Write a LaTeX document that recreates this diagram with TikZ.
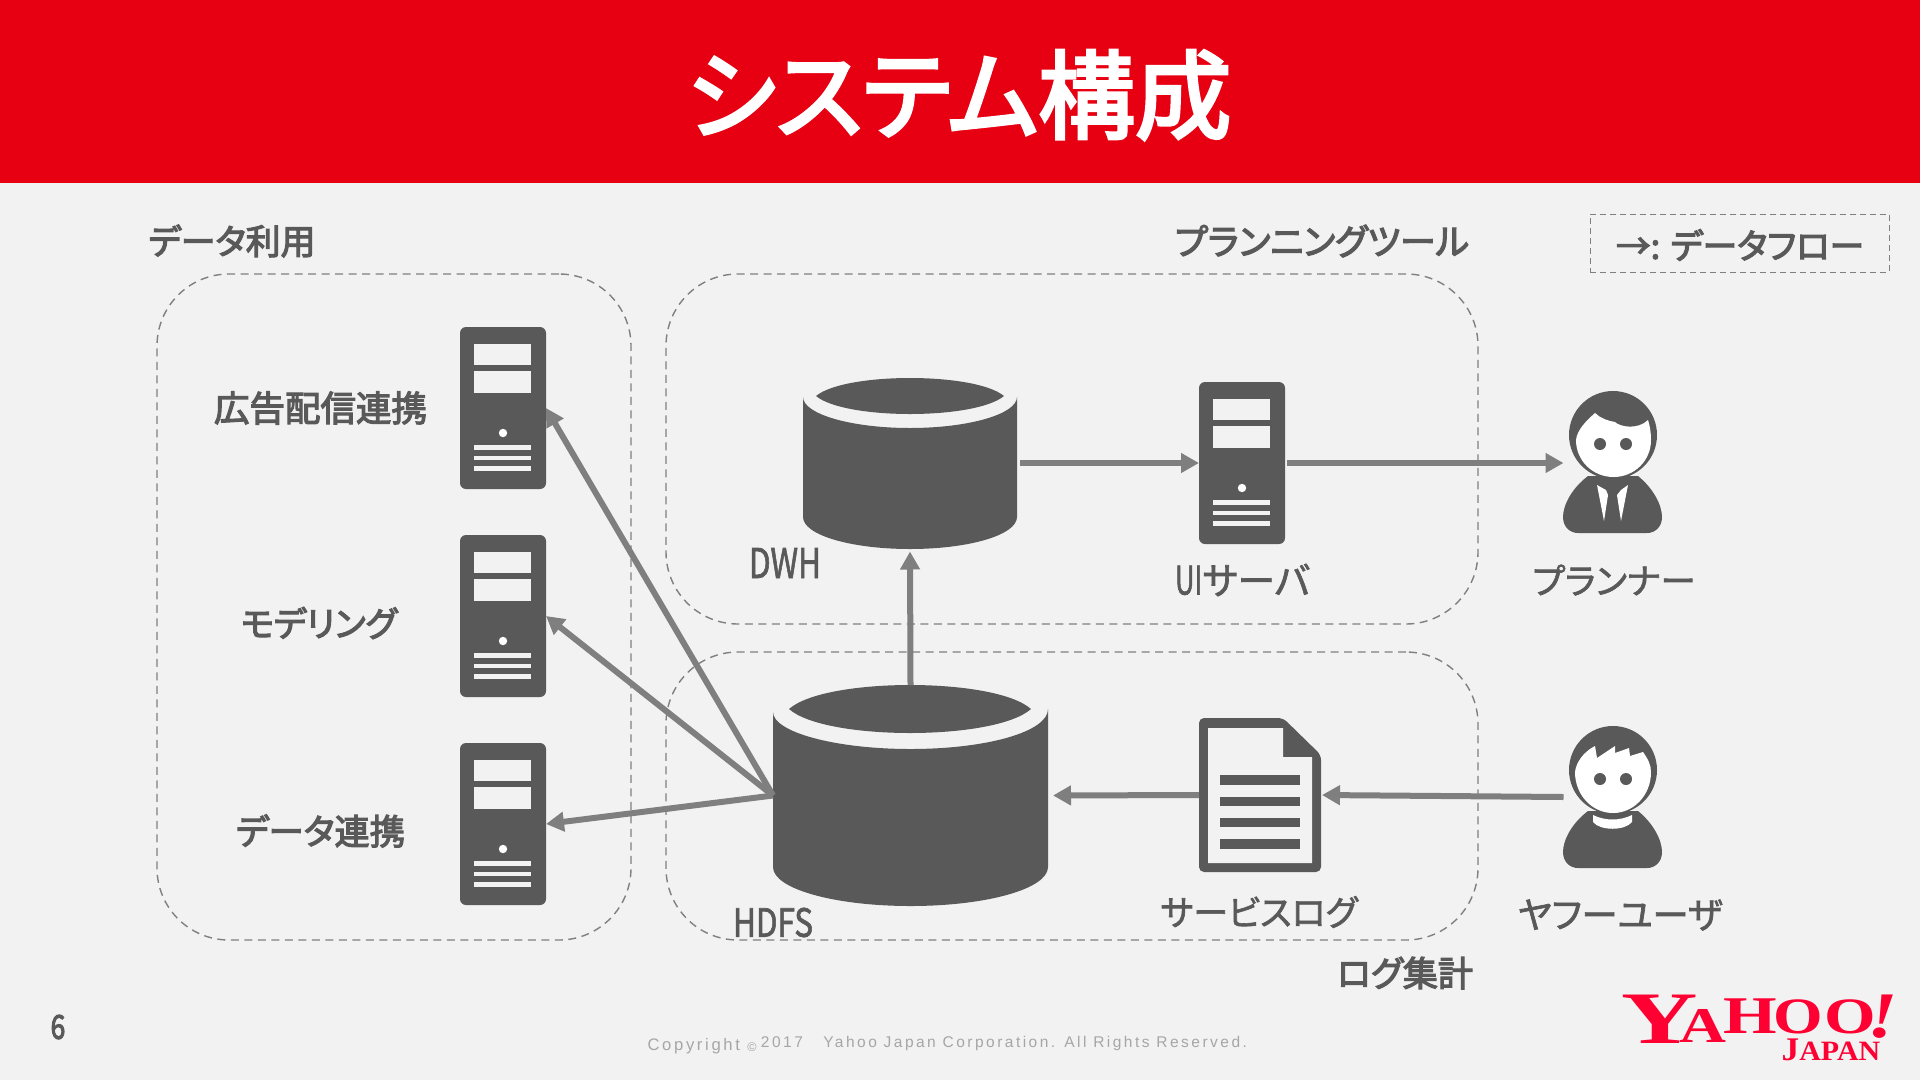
\documentclass[tikz,border=0pt]{standalone}
\usepackage{fontspec}
\usepackage{graphicx}
\usetikzlibrary{arrows.meta}
\setmainfont{Noto Sans CJK JP}[RawFeature=+palt]
\newfontfamily\heavyfont{Noto Sans CJK JP}[RawFeature=+palt,FakeBold=3.4]
\newfontfamily\midfont{Noto Sans CJK JP}[RawFeature=+palt,FakeBold=1.8]
\newfontfamily\logofont{Liberation Serif}
\newfontfamily\copyfont{Liberation Sans}[LetterSpace=16]
\definecolor{hdrred}{HTML}{E60012}
\definecolor{pagebg}{HTML}{F2F2F2}
\definecolor{icongray}{HTML}{595959}
\definecolor{arrowgray}{HTML}{7F7F7F}
\definecolor{dashgray}{HTML}{808080}
\definecolor{copygray}{HTML}{A6A6A6}
\definecolor{logored}{HTML}{FF0033}
\newcommand\fitw[2]{\resizebox{#1pt}{!}{#2}}
\newcommand\fitwh[3]{\resizebox{#1pt}{#2pt}{#3}}
\newcommand\sz[1]{\fontsize{#1pt}{#1pt}\selectfont}
\newcommand\logochr[4]{\node[logochar] (#1) at #2 {\scalebox{#3}[1]{#4}};}
\tikzset{
  x=1pt,y=-1pt,
  lab/.style={text=icongray,inner sep=0pt,outer sep=0pt,anchor=center,font=\midfont\sz{33}},
  blab/.style={lab,font=\heavyfont\sz{33}},
  groupbox/.style={draw=dashgray,line width=1.4pt,dash pattern=on 8pt off 5.5pt,rounded corners=72pt,inner sep=0pt,minimum width=#1},
  iconbox/.style={inner sep=0pt,outer sep=0pt},
  serverbody/.style={fill=icongray,rounded corners=6pt,inner sep=0pt,outer sep=0pt,minimum width=86pt,minimum height=162pt},
  flow/.style={draw=arrowgray,line width=6pt,-{Triangle[length=18pt,width=19pt]}},
  logochar/.style={text=logored,inner sep=0pt,outer sep=0pt,anchor=base},
  pics/srvparts/.style={code={
    \fill[pagebg] (-29,-64) rectangle (28,-43);
    \fill[pagebg] (-29,-37) rectangle (28,-15);
    \fill[white] (0,25) circle[radius=4.2pt];
    \fill[pagebg] (-29,37) rectangle (28,42);
    \fill[pagebg] (-29,48) rectangle (28,52);
    \fill[pagebg] (-29,58) rectangle (28,63);
  }},
  pics/personbase/.style={code={
    % origin = centre of head
    \fill[icongray] (0,0) circle[radius=44pt];
    \fill[icongray] (-25,41) .. controls (-41,53) and (-50,70) .. (-50,82)
       .. controls (-50,92) and (-43,98) .. (-35,98) -- (34,98)
       .. controls (42,98) and (49,92) .. (49,82)
       .. controls (49,70) and (40,53) .. (25,41) -- cycle;
  }}
}
\begin{document}
\begin{tikzpicture}
\useasboundingbox (0,0) rectangle (1920,1080);
\fill[pagebg] (0,0) rectangle (1920,1080);
\fill[hdrred] (0,0) rectangle (1920,183);

\node[inner sep=0pt,text=white,font=\heavyfont\sz{91}] (title) at (959,95) {\fitw{545}{システム構成}};

% group boxes
\node[groupbox=474pt,minimum height=666pt] (usebox) at (394,607) {};
\node[groupbox=812pt,minimum height=350pt] (planbox) at (1072,449) {};
\node[groupbox=812pt,minimum height=288pt] (logbox) at (1072,796) {};
\node[draw=dashgray,line width=0.9pt,dash pattern=on 6pt off 4pt,inner sep=0pt,minimum width=299pt,minimum height=58pt] (legendbox) at (1739.5,243) {};

% group titles
\node[blab] (tuse) at (232,241) {\fitw{167}{データ利用}};
\node[blab] (tplan) at (1322,241) {\fitw{294}{プランニングツール}};
\node[blab] (tlog) at (1405,973) {\fitw{136}{ログ集計}};
\node[blab] (tlegend) at (1740,245) {\fitw{248}{→: データフロー}};

% servers
\node[serverbody] (srvA) at (503,408) {};
\node[serverbody] (srvB) at (503,616) {};
\node[serverbody] (srvC) at (503,824) {};
\node[serverbody] (srvUI) at (1242,463) {};
\pic at (srvA) {srvparts};
\pic at (srvB) {srvparts};
\pic at (srvC) {srvparts};
\pic at (srvUI) {srvparts};

\node[blab] (lA) at (320.5,408) {\fitw{213}{広告配信連携}};
\node[blab] (lB) at (319,623) {\fitw{156}{モデリング}};
\node[blab] (lC) at (320.5,831) {\fitw{169}{データ連携}};

% DWH cylinder
\node[iconbox,minimum width=214pt,minimum height=171pt] (dwh) at (910,463) {};
\fill[icongray] (803,397) .. controls (803,414) and (851,428) .. (910,428)
  .. controls (969,428) and (1017,414) .. (1017,397) -- (1017,517)
  .. controls (1017,535) and (969,549) .. (910,549)
  .. controls (851,549) and (803,535) .. (803,517) -- cycle;
\fill[icongray] (816,396) .. controls (845,372) and (975,372) .. (1004,396)
  .. controls (975,420) and (845,420) .. (816,396) -- cycle;
\node[lab] (ldwh) at (785,563) {\fitwh{72}{30}{DWH}};

% HDFS cylinder
\node[iconbox,minimum width=275pt,minimum height=221pt] (hdfs) at (910.5,795.5) {};
\fill[icongray] (773,712) .. controls (773,732) and (835,749) .. (910.5,749)
  .. controls (986,749) and (1048,732) .. (1048,709) -- (1048,867)
  .. controls (1048,889) and (986,906) .. (910.5,906)
  .. controls (835,906) and (773,889) .. (773,867) -- cycle;
\fill[icongray] (789,709) .. controls (825,677) and (995,677) .. (1031,709)
  .. controls (995,741) and (825,741) .. (789,709) -- cycle;
\node[lab] (lhdfs) at (773,922.5) {\fitwh{80}{29}{HDFS}};

% document icon
\node[iconbox,minimum width=122pt,minimum height=154pt] (doc) at (1260,795) {};
\fill[icongray,rounded corners=5pt] (1199,718) -- (1283,718) -- (1321,755) -- (1321,872) -- (1199,872) -- cycle;
\fill[pagebg] (1208,728) -- (1283,728) -- (1283,757) -- (1312,757) -- (1312,863) -- (1208,863) -- cycle;
\fill[icongray] (1220,775) rectangle (1300,785);
\fill[icongray] (1220,797) rectangle (1300,806);
\fill[icongray] (1220,818) rectangle (1300,827);
\fill[icongray] (1220,839) rectangle (1300,849);
\node[lab] (ldoc) at (1259,912) {\fitw{197}{サービスログ}};

\node[lab] (lui) at (1242.5,580) {\fitw{135}{\scalebox{.72}[1.05]{UI}サーバ}};

% planner
\node[iconbox,minimum width=99pt,minimum height=142pt] (planner) at (1613,463) {};
\pic at (1613,435) {personbase};
\fill[white] (1576,440) .. controls (1577,430) and (1586,421) .. (1595,413)
  .. controls (1600,418) and (1608,421) .. (1615,422)
  .. controls (1620,427) and (1638,430) .. (1648,420)
  .. controls (1650,426) and (1651,433) .. (1651,440)
  .. controls (1651,461) and (1634,477) .. (1613.5,477)
  .. controls (1593,477) and (1576,461) .. (1576,440) -- cycle;
\fill[icongray] (1600,444) circle[radius=6pt];
\fill[icongray] (1626,444) circle[radius=6pt];
\fill[white] (1597,485) -- (1606,490) -- (1608,495) -- (1604,521) -- cycle;
\fill[white] (1628,485) -- (1621,490) -- (1617,495) -- (1621,521) -- cycle;
\node[lab] (lplanner) at (1614,580) {\fitw{163}{プランナー}};

% user
\node[iconbox,minimum width=99pt,minimum height=142pt] (user) at (1613,797) {};
\pic at (1613,770) {personbase};
\fill[white] (1575,772) .. controls (1576,763) and (1583,752) .. (1595,746)
  -- (1597,758) -- (1615,746) -- (1615,753) -- (1629,748) -- (1630,756) -- (1643,752)
  .. controls (1648,759) and (1651,765) .. (1651,772)
  .. controls (1651,795) and (1634,813) .. (1613,813)
  .. controls (1592,813) and (1575,795) .. (1575,772) -- cycle;
\fill[icongray] (1600,779) circle[radius=6pt];
\fill[icongray] (1626,779) circle[radius=6pt];
\fill[white] (1593,815) .. controls (1605,821) and (1620,821) .. (1632,815)
  -- (1632,822) .. controls (1625,831) and (1600,831) .. (1593,822) -- cycle;
\node[lab] (luser) at (1620,915) {\fitw{205}{ヤフーユーザ}};

% connectors
\draw[flow] (hdfs.west) -- (srvA.east);
\draw[flow] (hdfs.west) -- (srvB.east);
\draw[flow] (hdfs.west) -- (srvC.east);
\draw[flow,shorten >=3pt] (hdfs.north) -- (dwh.south);
\draw[flow,shorten <=3pt] (dwh.east) -- (srvUI.west);
\draw[flow,shorten <=2pt] (srvUI.east) -- (planner.west);
\draw[flow,shorten >=1pt] (user.west) -- (doc.east);
\draw[flow,shorten >=5pt] (doc.west) -- (hdfs.east);

% footer
\node[blab,font=\heavyfont\sz{33}] (pageno) at (58,1027) {\scalebox{.8}[1]{6}};
\node[inner sep=0pt,text=copygray,font=\copyfont\sz{16}] (copyA) at (702,1046) {\fitw{109}{Copyright \raisebox{-1pt}{\sz{12}©}}};
\node[inner sep=0pt,text=copygray,font=\copyfont\sz{16}] (copyB) at (1004,1043) {\fitw{486}{2017\ \ \ Yahoo Japan Corporation. All Rights Reserved.}};

% logo
\begin{scope}[font=\logofont\bfseries]
\logochr{lgY}{(1660,1043)}{1.43}{\sz{74}Y}
\logochr{lgA}{(1703,1042)}{1.30}{\sz{50}A}
\logochr{lgH}{(1750,1033)}{1.30}{\sz{53}H}
\logochr{lgO}{(1798.5,1033)}{1.25}{\sz{51}O}
\logochr{lgOb}{(1850,1033)}{1.30}{\sz{51}O}
\logochr{lgEx}{(1883,1037)}{1.2}{\sz{65}\itshape !}
\logochr{lgJ}{(1831,1060)}{1.07}{\sz{33}J\sz{28}APAN}
\end{scope}
\end{tikzpicture}
\end{document}
